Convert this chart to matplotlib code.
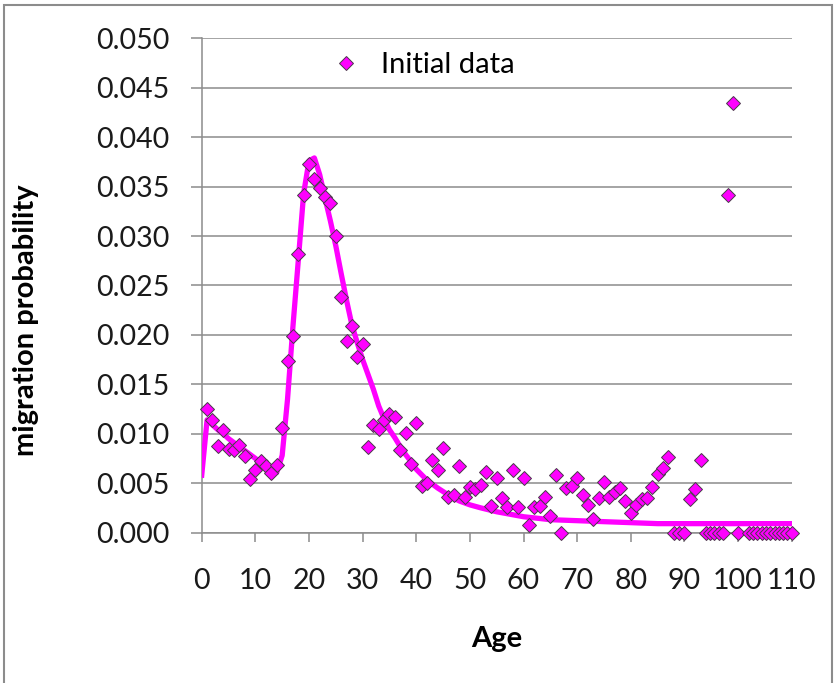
import matplotlib.pyplot as plt
from matplotlib.patches import Rectangle

plt.rcParams['font.family'] = ['Lato', 'DejaVu Sans']

# observed migration probabilities (diamonds)
ages = [1, 2, 3, 4, 5, 6, 7, 8, 9, 10,
        11, 12, 13, 14, 15, 16, 17, 18, 19, 20,
        21, 22, 23, 24, 25, 26, 27, 28, 29, 30,
        31, 32, 33, 34, 35, 36, 37, 38, 39, 40,
        41, 42, 43, 44, 45, 46, 47, 48, 49, 50,
        51, 52, 53, 54, 55, 56, 57, 58, 59, 60,
        61, 62, 63, 64, 65, 66, 67, 68, 69, 70,
        71, 72, 73, 74, 75, 76, 77, 78, 79, 80,
        81, 82, 83, 84, 85, 86, 87, 88, 89, 90,
        91, 92, 93, 94, 94.8, 95.6, 96.4, 97.2, 98.2, 99.1,
        100, 102, 102.8, 103.6, 104.4, 105.2, 106, 106.8, 107.6, 108.4,
        109.2, 110]
probs = [0.0125, 0.0114, 0.0088, 0.0104, 0.0085, 0.0083, 0.0089, 0.0077, 0.0054, 0.0063,
         0.0072, 0.0067, 0.0060, 0.0068, 0.0106, 0.0174, 0.0199, 0.0282, 0.0341, 0.0373,
         0.0358, 0.0349, 0.0339, 0.0333, 0.0300, 0.0238, 0.0194, 0.0209, 0.0178, 0.0191,
         0.0087, 0.0109, 0.0105, 0.0114, 0.0120, 0.0117, 0.0083, 0.0101, 0.0069, 0.0111,
         0.0047, 0.0050, 0.0073, 0.0063, 0.0086, 0.0036, 0.0038, 0.0067, 0.0036, 0.0046,
         0.0044, 0.0048, 0.0061, 0.0027, 0.0055, 0.0035, 0.0026, 0.0063, 0.0026, 0.0055,
         0.0008, 0.0026, 0.0027, 0.0036, 0.0017, 0.0058, 0.0000, 0.0045, 0.0047, 0.0055,
         0.0038, 0.0028, 0.0014, 0.0035, 0.0051, 0.0036, 0.0041, 0.0045, 0.0032, 0.0020,
         0.0028, 0.0034, 0.0035, 0.0046, 0.0059, 0.0065, 0.0076, 0.0, 0.0, 0.0,
         0.0034, 0.0044, 0.0073, 0.0, 0.0, 0.0, 0.0, 0.0, 0.0341, 0.0435,
         0.0, 0.0, 0.0, 0.0, 0.0, 0.0, 0.0, 0.0, 0.0, 0.0,
         0.0, 0.0]

# fitted model curve (magenta line)
fit_ages = [0, 1, 2, 3, 4, 5, 6, 7, 8, 9, 10, 11, 12, 13, 14, 15, 16, 17, 18, 19,
            20, 21, 22, 23, 24, 25, 26, 27, 28, 29, 30, 31, 32, 33, 34, 35, 36, 37, 38, 39,
            40, 42, 44, 46, 48, 50, 52, 55, 58, 60, 65, 70, 75, 80, 85, 90, 100, 110]
fit_probs = [0.0058, 0.0114, 0.0109, 0.0104, 0.0100, 0.0095, 0.0091, 0.0087, 0.0083, 0.0079,
             0.0075, 0.0071, 0.0067, 0.0063, 0.0061, 0.0078, 0.0135, 0.0208, 0.0275, 0.0343,
             0.0376, 0.0379, 0.0362, 0.0338, 0.0315, 0.0290, 0.0262, 0.0235, 0.0210, 0.0192,
             0.0175, 0.0160, 0.0145, 0.0128, 0.0115, 0.0104, 0.0096, 0.0087, 0.0079, 0.0072,
             0.0064, 0.0053, 0.0045, 0.0038, 0.0032, 0.0028, 0.0025, 0.0021, 0.0018, 0.0016,
             0.0013, 0.0012, 0.0011, 0.0010, 0.0009, 0.0009, 0.0009, 0.0009]

x_ticks = list(range(0, 111, 10))
y_ticks = [0.000, 0.005, 0.010, 0.015, 0.020, 0.025, 0.030, 0.035, 0.040, 0.045, 0.050]

grey = '#8c8c8c'

fig = plt.figure(figsize=(8.36, 6.83), dpi=100)
ax = fig.add_axes([0.2413, 0.2203, 0.7057, 0.7236])

ax.plot(fit_ages, fit_probs, color='#ff00ff', lw=3.8, solid_joinstyle='round', zorder=3)
ax.plot(ages, probs, linestyle='none', marker='D', markersize=7,
        markerfacecolor='#ff00ff', markeredgecolor='#4a3a4a', markeredgewidth=0.7,
        label='Initial data', zorder=4, clip_on=False)

ax.set_xlim(0, 110)
ax.set_ylim(0, 0.05)
ax.set_xticks(x_ticks)
ax.set_yticks(y_ticks)
ax.set_yticklabels([f'{v:.3f}' for v in y_ticks])
ax.yaxis.grid(True, color=grey, lw=1.1)
ax.set_axisbelow(True)

for s in ['top', 'right']:
    ax.spines[s].set_visible(False)
for s in ['left', 'bottom']:
    ax.spines[s].set_color(grey)
    ax.spines[s].set_linewidth(1.1)

ax.tick_params(axis='y', direction='out', length=8, width=1.1, color=grey,
               labelsize=20.5, pad=15, labelcolor='#1a1a1a')
ax.tick_params(axis='x', direction='out', length=6.5, width=1.1, color=grey,
               labelsize=20.5, pad=19, labelcolor='#1a1a1a')

ax.set_xlabel('Age', fontsize=21, fontweight='bold', labelpad=23)
ax.set_ylabel('migration probability', fontsize=21, fontweight='bold')
ax.yaxis.set_label_coords(-0.275, 0.43)

ax.legend(loc='center left', bbox_to_anchor=(0.215, 0.946), frameon=False,
          fontsize=21, handlelength=1.2, handletextpad=0.6, borderaxespad=0,
          borderpad=0)

# outer chart border
fig.patches.append(Rectangle((4 / 836, -0.1), 828 / 836, 1.1 - 5 / 683,
                             transform=fig.transFigure, fill=False,
                             edgecolor=grey, lw=1.5))

fig.savefig('out.png', dpi=100)
